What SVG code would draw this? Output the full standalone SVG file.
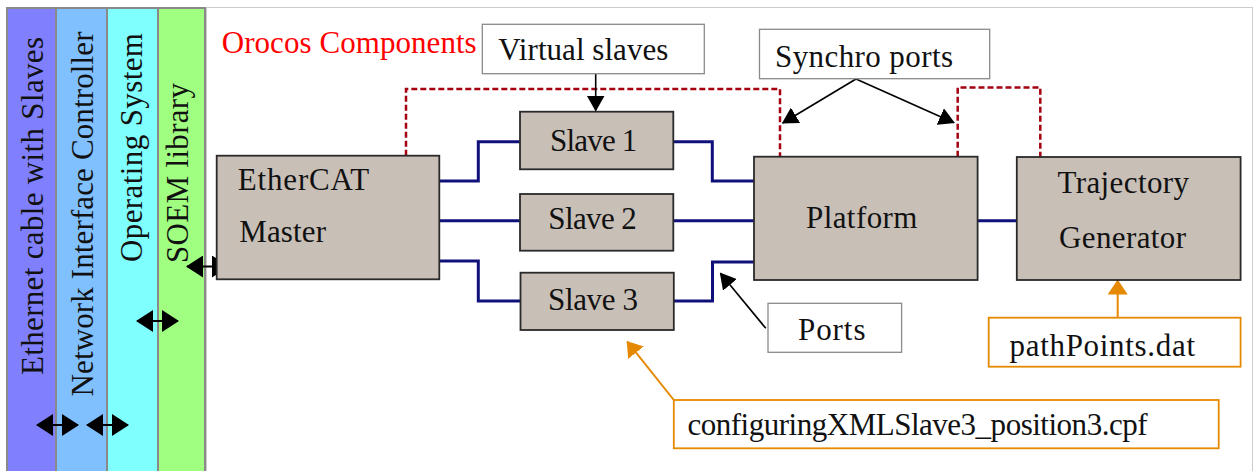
<svg xmlns="http://www.w3.org/2000/svg" width="1256" height="471" viewBox="0 0 1256 471" font-family="'Liberation Serif', 'DejaVu Serif', serif">
<defs>
<style>
text{font-family:'Liberation Serif','Times New Roman',Times,'DejaVu Serif','Noto Serif','FreeSerif',serif;font-size:31px;fill:#111}
.band{stroke:#8a8a8a;stroke-width:2}
.node{fill:#c8bfb7;stroke:#2a2a2a;stroke-width:1.8}
.lbl{fill:#fff;stroke:#8a8a8a;stroke-width:1.3}
.olbl{fill:#fff;stroke:#e58a00;stroke-width:1.8}
.navy{fill:none;stroke:#10107a;stroke-width:3}
.red{fill:none;stroke:#a50010;stroke-width:2.5;stroke-dasharray:6 3}
.blk{fill:none;stroke:#000;stroke-width:1.6}
.org{fill:none;stroke:#e58a00;stroke-width:2}
.dbl{fill:none;stroke:#000;stroke-width:1.8}
</style>
<marker id="ak" viewBox="0 0 16 18" markerUnits="userSpaceOnUse" markerWidth="16" markerHeight="18" refX="15" refY="9" orient="auto"><path d="M0,0 L16,9 L0,18 z" fill="#000"/></marker>
<marker id="ao" viewBox="0 0 15 20" markerUnits="userSpaceOnUse" markerWidth="15" markerHeight="20" refX="14" refY="10" orient="auto"><path d="M0,0 L15,10 L0,20 z" fill="#e58a00"/></marker>
<marker id="dh" viewBox="0 0 17 22" markerUnits="userSpaceOnUse" markerWidth="17" markerHeight="22" refX="16" refY="11" orient="auto"><path d="M0,0 L17,11 L0,22 z" fill="#000"/></marker>
<marker id="dt" viewBox="0 0 17 22" markerUnits="userSpaceOnUse" markerWidth="17" markerHeight="22" refX="1" refY="11" orient="auto"><path d="M17,0 L0,11 L17,22 z" fill="#000"/></marker>
</defs>
<rect x="0" y="0" width="1256" height="471" fill="#fff"/>
<g id="layers">
<rect class="band" x="7" y="8" width="49" height="470" fill="#8080ff"/>
<rect class="band" x="56" y="8" width="51" height="470" fill="#80c0ff"/>
<rect class="band" x="107" y="8" width="51" height="470" fill="#80ffff"/>
<rect class="band" x="158" y="8" width="47" height="470" fill="#a0ff80"/>
<text transform="translate(43,206) rotate(-90)" text-anchor="middle" textLength="338">Ethernet cable with Slaves</text>
<text transform="translate(93,214) rotate(-90)" text-anchor="middle" textLength="365">Network Interface Controller</text>
<text transform="translate(141.5,147.5) rotate(-90)" text-anchor="middle" textLength="229">Operating System</text>
<text transform="translate(188,173) rotate(-90)" text-anchor="middle" textLength="180">SOEM library</text>
</g>
<rect id="frame" x="206.5" y="7.5" width="1046" height="470" fill="none" stroke="#999" stroke-width="1" stroke-dasharray="1 1"/>
<text id="title" x="221.7" y="52.7" textLength="255" style="fill:#ff0000">Orocos Components</text>
<g id="connectors">
<path class="red" d="M406,155.7 V89 H780 V156.7"/>
<path class="red" d="M957.7,156.7 V87.5 H1040.3 V157"/>
<path class="navy" d="M439.3,181 H478.3 V141.7 H520"/>
<path class="navy" d="M439.3,220.7 H520"/>
<path class="navy" d="M439.3,261 H478.3 V301 H520.5"/>
<path class="navy" d="M673.3,141.7 H712.3 V181 H754"/>
<path class="navy" d="M673.3,220.7 H754"/>
<path class="navy" d="M673.8,301 H712.5 V262 H754"/>
<path class="navy" d="M977.6,220.7 H1016.8"/>
<path class="blk" d="M595.7,73.7 V110.5" marker-end="url(#ak)"/>
<path class="blk" d="M856,79 L782.7,123" marker-end="url(#ak)"/>
<path class="blk" d="M856,79 L954,122.7" marker-end="url(#ak)"/>
<path class="blk" d="M765.8,328.3 L720.4,273.3" marker-end="url(#ak)"/>
<path class="org" d="M1117.7,317.7 V280.5" marker-end="url(#ao)"/>
<path class="org" d="M673.8,400 L627.3,341.7" marker-end="url(#ao)"/>
<line class="dbl" x1="37" y1="425" x2="78" y2="425" marker-start="url(#dt)" marker-end="url(#dh)"/>
<line class="dbl" x1="87" y1="425" x2="128" y2="425" marker-start="url(#dt)" marker-end="url(#dh)"/>
<line class="dbl" x1="137" y1="321" x2="178" y2="321" marker-start="url(#dt)" marker-end="url(#dh)"/>
<line class="dbl" x1="187" y1="266.5" x2="228" y2="266.5" marker-start="url(#dt)" marker-end="url(#dh)"/>
</g>
<g id="master"><rect class="node" x="216.7" y="155.7" width="222.6" height="123.6"/>
<text x="237.7" y="190" textLength="131.6">EtherCAT</text><text x="239.3" y="242.3" textLength="86.7">Master</text></g>
<g id="slave1"><rect class="node" x="520" y="111.7" width="153.3" height="57.6"/><text x="550" y="151" textLength="87.3">Slave 1</text></g>
<g id="slave2"><rect class="node" x="520" y="194" width="153.3" height="56.7"/><text x="548.3" y="229.3" textLength="88.4">Slave 2</text></g>
<g id="slave3"><rect class="node" x="520.5" y="272.7" width="153.3" height="57.3"/><text x="548" y="310" textLength="90">Slave 3</text></g>
<g id="platform"><rect class="node" x="754" y="156.7" width="223.6" height="123.3"/><text x="806" y="228" textLength="111.4">Platform</text></g>
<g id="trajectory"><rect class="node" x="1016.8" y="157" width="223.8" height="123"/>
<text x="1057.5" y="193" textLength="131.5">Trajectory</text><text x="1059" y="248" textLength="127">Generator</text></g>
<g id="virtual-slaves"><rect class="lbl" x="482.3" y="24.3" width="222" height="49.4"/><text x="498.3" y="60" textLength="170">Virtual slaves</text></g>
<g id="synchro-ports"><rect class="lbl" x="759.5" y="29.3" width="230.2" height="49.4"/><text x="775" y="66.7" textLength="178">Synchro ports</text></g>
<g id="ports"><rect class="lbl" x="768" y="303.3" width="133.6" height="49"/><text x="798" y="340" textLength="67.5">Ports</text></g>
<g id="pathpoints"><rect class="olbl" x="988.7" y="317.7" width="251.9" height="49"/><text x="1009.5" y="356" textLength="185.5">pathPoints.dat</text></g>
<g id="config"><rect class="olbl" x="673.8" y="400" width="544.9" height="48.3"/><text x="687.5" y="435" textLength="460">configuringXMLSlave3_position3.cpf</text></g>
</svg>
